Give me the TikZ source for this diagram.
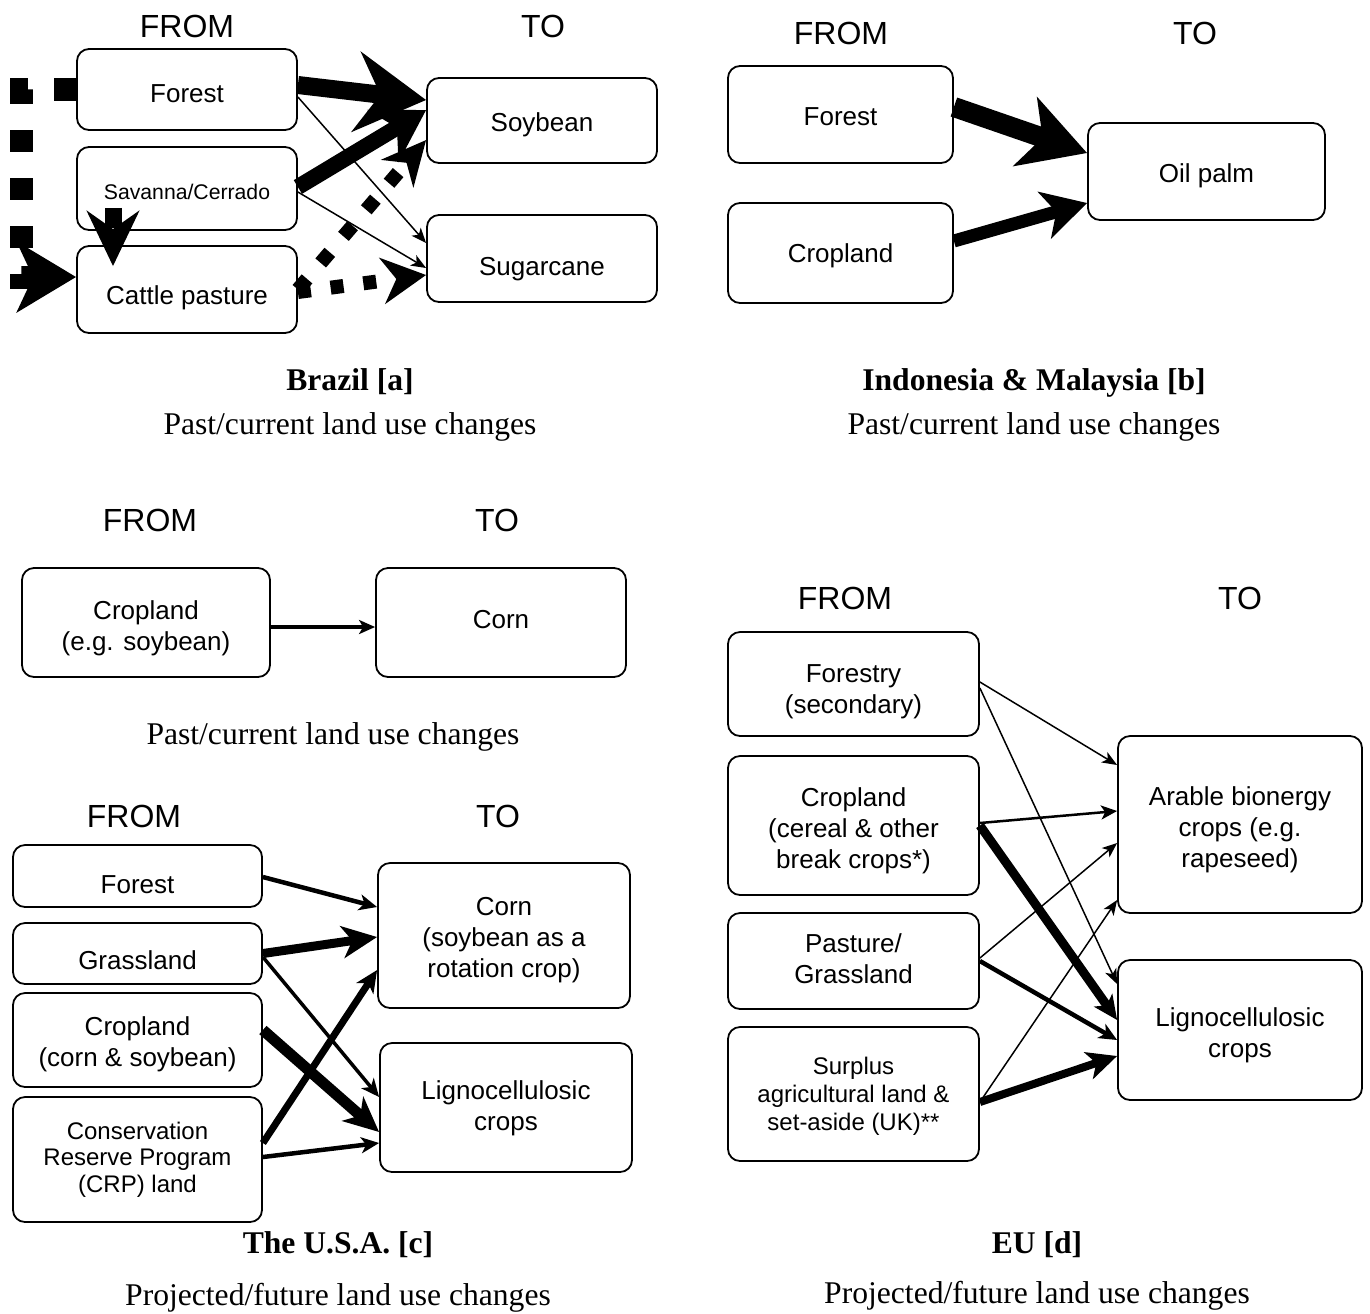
\documentclass[tikz,border=0pt]{standalone}
\usepackage{fontspec}
\setmainfont{Liberation Serif}
\setsansfont{Liberation Sans}
\usepackage{tikz}
\usetikzlibrary{arrows.meta}
\newcommand{\padtop}[1]{\rule{0pt}{#1}}
\newcommand{\padbot}[1]{\rule[-#1]{0pt}{#1}}

\begin{document}
\begin{tikzpicture}[x=0.5pt,y=-0.5pt,
  landbox/.style={draw, line width=0.9pt, rounded corners=6pt, align=center, inner sep=0pt,
    font=\sffamily\fontsize{13}{15.5}\selectfont},
  fromto/.style={font=\sffamily\fontsize{16}{19}\selectfont},
  capt/.style={align=center, font=\fontsize{15.8}{22}\selectfont},
  flow/.style n args={4}{line width=#1, -{Stealth[length=#2,width=#3,inset=#4]}},
  thinflow/.style={flow={0.75pt}{7.5pt}{6pt}{2pt}}]
\useasboundingbox (0,0) rectangle (1370,1313);

\node[fromto] (bFrom) at (187,26) {FROM};
\node[fromto] (bTo) at (543,26) {TO};
\node[landbox, minimum width=110pt, minimum height=40.5pt] (bForest) at (187,89.5) {\padtop{13.5pt}Forest};
\node[landbox, minimum width=110pt, minimum height=41.5pt, font=\sffamily\fontsize{10.6}{12}\selectfont] (bSavanna) at (187,188.5) {\padtop{10.7pt}Savanna/Cerrado};
\node[landbox, minimum width=110pt, minimum height=43.5pt] (bCattle) at (187,289.5) {\padtop{18pt}Cattle pasture};
\node[landbox, minimum width=115pt, minimum height=42.5pt] (bSoy) at (542,120.5) {\padtop{13.5pt}Soybean};
\node[landbox, minimum width=115pt, minimum height=43.5pt] (bSugar) at (542,258.5) {\padtop{20pt}Sugarcane};
\coordinate (bLoop) at (21,277);
\draw[flow={11.5pt}{29.5pt}{35pt}{8pt}, dash pattern=on 11pt off 13pt] (bForest.west) -| (bLoop) -- ([yshift=6.25pt]bCattle.west);
\draw[flow={9pt}{35pt}{40pt}{12pt}] ([yshift=2.25pt]bForest.east) -- ([yshift=10.25pt]bSoy.west);
\draw[flow={8pt}{25pt}{30pt}{8pt}] ([yshift=0.75pt]bSavanna.east) -- ([yshift=5.25pt]bSoy.west);
\draw[flow={7pt}{22pt}{21pt}{7pt}, dash pattern=on 7pt off 10.5pt] (bCattle.east) -- ([yshift=-9.75pt]bSoy.west);
\draw[flow={7pt}{22pt}{23pt}{7pt}, dash pattern=on 6.5pt off 10pt] ([yshift=-1.25pt]bCattle.east) -- ([yshift=-8.25pt]bSugar.west);
\draw[thinflow] ([yshift=-3.75pt]bForest.east) -- ([yshift=7.75pt]bSugar.west);
\draw[thinflow] ([yshift=-1.75pt]bSavanna.east) -- ([yshift=-4.75pt]bSugar.west);
\draw[flow={8.5pt}{27.5pt}{26pt}{9pt}, dash pattern=on 10pt off 20pt] ([xshift=-37pt,yshift=11.5pt]bSavanna.south) -- ([xshift=-37pt,yshift=-10.5pt]bCattle.north);
\node[capt] (bCapt) at (350,405) {\textbf{Brazil [a]}\\Past/current land use changes};

\node[fromto] (iFrom) at (841,33) {FROM};
\node[fromto] (iTo) at (1195,33) {TO};
\node[landbox, minimum width=112.5pt, minimum height=48.5pt] (iForest) at (840.5,114.5) {\padtop{11.5pt}Forest};
\node[landbox, minimum width=112.5pt, minimum height=50pt] (iCrop) at (840.5,253) {\padtop{12.5pt}Cropland};
\node[landbox, minimum width=118.5pt, minimum height=48.5pt] (iPalm) at (1206.5,171.5) {\padtop{13.5pt}Oil palm};
\draw[flow={10pt}{32.5pt}{36pt}{9pt}] ([yshift=3.75pt]iForest.east) -- ([yshift=9.25pt]iPalm.west);
\draw[flow={6.5pt}{22pt}{24pt}{6pt}] ([yshift=6pt]iCrop.east) -- ([yshift=-15.75pt]iPalm.west);
\node[capt] (iCapt) at (1034,405) {\textbf{Indonesia \& Malaysia [b]}\\Past/current land use changes};

\node[fromto] (aFrom) at (150,520) {FROM};
\node[fromto] (aTo) at (497,520) {TO};
\node[landbox, minimum width=124pt, minimum height=54.5pt] (aCrop) at (146,622.5) {\padtop{15.5pt}Cropland\\(e.g. soybean)};
\node[landbox, minimum width=125pt, minimum height=54.5pt] (aCorn) at (501,622.5) {Corn\padbot{3pt}};
\draw[flow={2pt}{8pt}{7pt}{2pt}] ([yshift=-2.25pt]aCrop.east) -- ([yshift=-2.25pt]aCorn.west);
\node[capt] (aCapt) at (333,737) {Past/current land use changes};

\node[fromto] (uFrom) at (134,816) {FROM};
\node[fromto] (uTo) at (498,816) {TO};
\node[landbox, minimum width=124.5pt, minimum height=31pt] (uForest) at (137.5,876) {\padtop{17.5pt}Forest};
\node[landbox, minimum width=124.5pt, minimum height=30.5pt] (uGrass) at (137.5,953.5) {\padtop{16.5pt}Grassland};
\node[landbox, minimum width=124.5pt, minimum height=47pt] (uCrop) at (137.5,1040) {\padtop{13.5pt}Cropland\\(corn \& soybean)};
\node[landbox, minimum width=124.5pt, minimum height=62.5pt, font=\sffamily\fontsize{12}{13.25}\selectfont] (uCRP) at (137.5,1159.5) {Conservation\\Reserve Program\\(CRP) land};
\node[landbox, minimum width=126pt, minimum height=72.5pt] (uCorn) at (504,935.5) {\padtop{14pt}Corn\\(soybean as a\\rotation crop)};
\node[landbox, minimum width=126pt, minimum height=64.5pt] (uLigno) at (506,1107.5) {\padtop{10.5pt}Lignocellulosic\\crops};
\draw[flow={2.25pt}{9pt}{8pt}{2.5pt}] ([yshift=-0.5pt]uForest.east) -- ([yshift=14.25pt]uCorn.west);
\draw[flow={4.5pt}{17.5pt}{16pt}{5pt}] (uGrass.east) -- ([yshift=-0.75pt]uCorn.west);
\draw[flow={1.75pt}{9pt}{8pt}{2.5pt}] ([yshift=-1.75pt]uGrass.east) -- ([yshift=5.25pt]uLigno.west);
\draw[flow={5.5pt}{17.5pt}{16pt}{5pt}] ([yshift=5pt]uCrop.east) -- ([yshift=-12.25pt]uLigno.west);
\draw[flow={3.5pt}{11pt}{10pt}{3pt}] ([yshift=8.25pt]uCRP.east) -- ([yshift=-17.25pt]uCorn.west);
\draw[flow={2.25pt}{9pt}{8pt}{2.5pt}] ([yshift=1.25pt]uCRP.east) -- ([yshift=-17.75pt]uLigno.west);
\node[capt, font=\fontsize{15.8}{26}\selectfont] (uCapt) at (338,1272) {\textbf{The U.S.A. [c]}\\Projected/future land use changes};

\node[fromto] (eFrom) at (845,598) {FROM};
\node[fromto] (eTo) at (1240,598) {TO};
\node[landbox, minimum width=125.5pt, minimum height=52pt] (eForestry) at (853.5,684) {\padtop{17pt}Forestry\\(secondary)};
\node[landbox, minimum width=125.5pt, minimum height=69.5pt] (eCrop) at (853.5,825.5) {\padtop{14.5pt}Cropland\\(cereal \& other\\break crops*)};
\node[landbox, minimum width=125.5pt, minimum height=48pt] (ePasture) at (853.5,961) {Pasture/\\Grassland\padbot{2pt}};
\node[landbox, minimum width=125.5pt, minimum height=67pt, font=\sffamily\fontsize{12}{14}\selectfont] (eSurplus) at (853.5,1094) {\padtop{10.7pt}Surplus\\agricultural land \&\\set-aside (UK)**};
\node[landbox, minimum width=122pt, minimum height=88.5pt] (eArable) at (1240,824.5) {\padtop{15pt}Arable bionergy\\crops (e.g.\\rapeseed)};
\node[landbox, minimum width=122pt, minimum height=70pt] (eLigno) at (1240,1030) {\padtop{14.5pt}Lignocellulosic\\crops};
\draw[thinflow] ([yshift=1pt]eForestry.east) -- ([yshift=29.75pt]eArable.west);
\draw[thinflow] ([yshift=-2pt]eForestry.east) -- ([yshift=23pt]eLigno.west);
\draw[flow={1.25pt}{8pt}{7pt}{2pt}] ([yshift=1.25pt]eCrop.east) -- ([yshift=6.75pt]eArable.west);
\draw[flow={4.5pt}{12pt}{11pt}{3pt}] (eCrop.east) -- ([yshift=5pt]eLigno.west);
\draw[thinflow] ([yshift=1.5pt]ePasture.east) -- ([yshift=-9.25pt]eArable.west);
\draw[flow={2.25pt}{9pt}{8pt}{2.5pt}] (ePasture.east) -- ([yshift=-5pt]eLigno.west);
\draw[thinflow] ([yshift=-4pt]eSurplus.east) -- ([yshift=-37.75pt]eArable.west);
\draw[flow={4pt}{15pt}{14pt}{4pt}] ([yshift=-4pt]eSurplus.east) -- ([yshift=-13pt]eLigno.west);
\node[capt, font=\fontsize{15.8}{25}\selectfont] (eCapt) at (1037,1271) {\textbf{EU [d]}\\Projected/future land use changes};
\end{tikzpicture}
\end{document}
